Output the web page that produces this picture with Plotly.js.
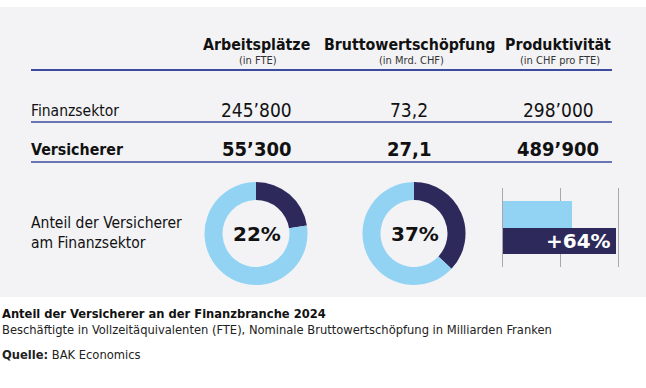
<!DOCTYPE html>
<html>
<head>
<meta charset="utf-8">
<script src="https://cdn.plot.ly/plotly-3.0.1.min.js"></script>
<style>html,body{margin:0;padding:0;background:#fff;}#chart{width:646px;height:388px;}</style>
</head>
<body>
<div id="chart"></div>
<script>
// ---- data ----
const columns = ["Arbeitsplätze", "Bruttowertschöpfung", "Produktivität"];
const units = ["(in FTE)", "(in Mrd. CHF)", "(in CHF pro FTE)"];
const rowLabels = ["Finanzsektor", "Versicherer"];
const finanzsektor = [245800, 73.2, 298000];
const versicherer = [55300, 27.1, 489900];
const finanzsektorText = ["245’800", "73,2", "298’000"];
const versichererText = ["55’300", "27,1", "489’900"];
const shareLabel = "Anteil der Versicherer<br>am Finanzsektor";
const title = "Anteil der Versicherer an der Finanzbranche 2024";
const subtitle = "Beschäftigte in Vollzeitäquivalenten (FTE), Nominale Bruttowertschöpfung in Milliarden Franken";
const source = "<b>Quelle:</b> BAK Economics";

// ---- styling ----
const W = 646, H = 388;
const FONT = '"DejaVu Sans Condensed", "Liberation Sans Narrow", "DejaVu Sans", sans-serif';
const WIDE = '"DejaVu Sans", sans-serif';
const DARK = '#2d2a5b', LIGHT = '#92d3f3', LINE = '#3a4c9e', BG = '#f3f3f6';
const px = x => x / W;
const py = y => 1 - y / H;
const colX = [256, 409, 558];

const annotations = [];
function ann(text, x, y, size, opts) {
  annotations.push(Object.assign({
    text: text, x: px(x), y: py(y), xref: 'paper', yref: 'paper',
    showarrow: false, xanchor: 'center', yanchor: 'middle', borderpad: 0,
    font: {family: FONT, size: size, color: '#111'}
  }, opts || {}));
}
columns.forEach((c, i) => ann('<b>' + c + '</b>', colX[i], 44, 15.8));
units.forEach((u, i) => ann(u, colX[i] + 2, 60, 11, {font: {family: FONT, size: 11, color: '#333'}}));
ann(rowLabels[0], 30, 111, 15.5, {xanchor: 'left'});
ann('<b>' + rowLabels[1] + '</b>', 30, 150, 15.8, {xanchor: 'left'});
finanzsektorText.forEach((t, i) => ann(t, colX[i], 110, 19));
versichererText.forEach((t, i) => ann('<b>' + t + '</b>', colX[i], 149, 20));
ann(shareLabel, 30, 233, 15.5, {xanchor: 'left', align: 'left'});
const share = [0, 1].map(i => Math.round(versicherer[i] / finanzsektor[i] * 100));
ann('<b>' + share[0] + '%</b>', 257, 234, 20, {font: {family: WIDE, size: 20, color: '#111'}});
ann('<b>' + share[1] + '%</b>', 415, 234, 20, {font: {family: WIDE, size: 20, color: '#111'}});
ann('<b>' + title + '</b>', 1, 313, 12.8, {xanchor: 'left'});
ann(subtitle, 1, 329, 12.8, {xanchor: 'left', font: {family: FONT, size: 12.8, color: '#222'}});
ann(source, 1, 354, 12.8, {xanchor: 'left', font: {family: FONT, size: 12.8, color: '#222'}});

const prodDiff = Math.round((versicherer[2] / finanzsektor[2] - 1) * 100);
annotations.push({
  text: '<b>+' + prodDiff + '%</b>', xref: 'x', yref: 'y', x: versicherer[2], y: 'Versicherer',
  xanchor: 'right', yanchor: 'middle', xshift: -4, showarrow: false, borderpad: 0,
  font: {family: WIDE, size: 20, color: '#fff'}
});

const shapes = [
  {type: 'rect', xref: 'paper', yref: 'paper', x0: 0, x1: 1, y0: py(297), y1: py(7), fillcolor: BG, line: {width: 0}, layer: 'below'},
  {type: 'line', xref: 'paper', yref: 'paper', x0: px(31), x1: px(612), y0: py(70), y1: py(70), line: {color: LINE, width: 2}},
  {type: 'line', xref: 'paper', yref: 'paper', x0: px(31), x1: px(612), y0: py(122), y1: py(122), line: {color: LINE, width: 1.5}},
  {type: 'line', xref: 'paper', yref: 'paper', x0: px(31), x1: px(612), y0: py(162), y1: py(162), line: {color: LINE, width: 1.5}}
];

function donut(i, cx) {
  const r = 51.5, cy = 233.5;
  return {
    type: 'pie', hole: 0.65, sort: false, direction: 'clockwise', rotation: 0,
    values: [versicherer[i], finanzsektor[i] - versicherer[i]],
    labels: ['Versicherer', 'Übrige'],
    marker: {colors: [DARK, LIGHT], line: {width: 0}},
    textinfo: 'none', hoverinfo: 'none', showlegend: false,
    domain: {x: [px(cx - r), px(cx + r)], y: [py(cy + r), py(cy - r)]}
  };
}

const bar = {
  type: 'bar', orientation: 'h', xaxis: 'x', yaxis: 'y',
  x: [finanzsektor[2], versicherer[2]],
  y: ['Finanzsektor', 'Versicherer'],
  width: 1,
  marker: {color: [LIGHT, DARK], line: {width: 0}},
  textinfo: 'none', hoverinfo: 'none', showlegend: false
};

const x0px = 502.7, pxPer = 58 / 250000, xmax = 560000;
const layout = {
  width: W, height: H, margin: {l: 0, r: 0, t: 0, b: 0},
  paper_bgcolor: '#fff', plot_bgcolor: 'rgba(0,0,0,0)',
  shapes: shapes, annotations: annotations,
  xaxis: {domain: [px(x0px), px(x0px + xmax * pxPer)], range: [0, xmax], dtick: 250000, tick0: 0,
          showgrid: true, gridcolor: '#a8a8a8', gridwidth: 1.2, zeroline: true, zerolinecolor: '#a8a8a8', zerolinewidth: 1.2,
          showticklabels: false, ticks: '', showline: false, fixedrange: true},
  yaxis: {domain: [py(267), py(188)], range: [-1, 2], showgrid: false, zeroline: false,
          categoryorder: 'array', categoryarray: ['Versicherer', 'Finanzsektor'],
          showticklabels: false, ticks: '', showline: false, fixedrange: true},
  bargap: 0
};

Plotly.newPlot('chart', [donut(0, 256), donut(1, 414), bar], layout, {staticPlot: true, displayModeBar: false});
</script>
</body>
</html>
